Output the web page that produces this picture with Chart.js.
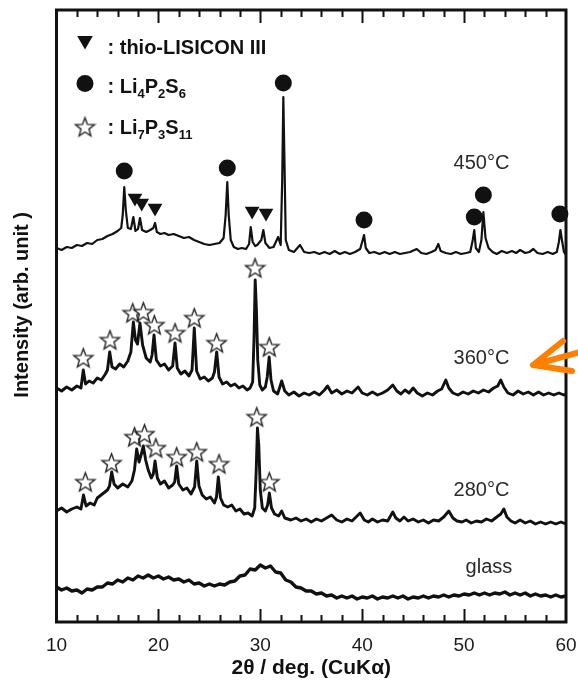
<!DOCTYPE html>
<html>
<head>
<meta charset="utf-8">
<script src="https://cdn.jsdelivr.net/npm/chart.js@4.4.1/dist/chart.umd.min.js"></script>
<style>
  html, body { margin: 0; padding: 0; background: #fff; }
  #wrap { width: 578px; height: 683px; }
</style>
</head>
<body>
<div id="wrap"><canvas id="xrd" width="578" height="683"></canvas></div>
<script>
// XRD patterns of 75Li2S-25P2S5 material: glass and after heat treatment.
// Intensities are in arbitrary units; each pattern already carries its vertical offset.

const glassTheta = [
  10.0, 10.5, 11.0, 11.5, 12.0, 12.5, 13.0, 13.5, 14.0, 14.5,
  15.0, 15.5, 16.0, 16.5, 17.0, 17.5, 18.0, 18.5, 19.0, 19.5,
  20.0, 20.5, 21.0, 21.5, 22.0, 22.5, 23.0, 23.5, 24.0, 24.5,
  25.0, 25.5, 26.0, 26.5, 27.0, 27.5, 28.0, 28.5, 29.0, 29.5,
  30.0, 30.5, 31.0, 31.5, 32.0, 32.5, 33.0, 33.5, 34.0, 34.5,
  35.0, 35.5, 36.0, 36.5, 37.0, 37.5, 38.0, 38.5, 39.0, 39.5,
  40.0, 40.5, 41.0, 41.5, 42.0, 42.5, 43.0, 43.5, 44.0, 44.5,
  45.0, 45.5, 46.0, 46.5, 47.0, 47.5, 48.0, 48.5, 49.0, 49.5,
  50.0, 50.5, 51.0, 51.5, 52.0, 52.5, 53.0, 53.5, 54.0, 54.5,
  55.0, 55.5, 56.0, 56.5, 57.0, 57.5, 58.0, 58.5, 59.0, 59.5,
  60.0
];
const glassIntensity = [
  35, 32, 34, 31, 32, 29, 33, 32, 35, 35,
  39, 38, 42, 40, 44, 42, 46, 44, 47, 44,
  46, 43, 45, 42, 43, 40, 42, 38, 39, 36,
  38, 36, 38, 37, 40, 41, 46, 47, 53, 52,
  57, 54, 56, 50, 49, 42, 40, 35, 34, 31,
  31, 28, 29, 26, 27, 24, 26, 24, 26, 23,
  25, 24, 26, 23, 25, 24, 26, 24, 26, 23,
  25, 24, 26, 24, 26, 25, 27, 25, 27, 26,
  28, 27, 29, 27, 29, 27, 29, 28, 30, 27,
  29, 27, 29, 26, 28, 26, 27, 25, 27, 25,
  26
];

const theta280 = [
  10.0, 10.5, 11.0, 11.5, 12.0, 12.4, 12.65, 12.9, 13.3, 13.7,
  14.0, 14.5, 15.0, 15.2, 15.42, 15.65, 16.0, 16.5, 17.0, 17.4,
  17.65, 17.87, 18.1, 18.3, 18.52, 18.75, 19.0, 19.3, 19.5, 19.67,
  19.9, 20.2, 20.6, 21.0, 21.4, 21.6, 21.79, 22.0, 22.4, 22.8,
  23.2, 23.55, 23.76, 23.98, 24.3, 24.7, 25.1, 25.5, 25.7, 25.88,
  26.1, 26.4, 26.8, 27.2, 27.6, 28.0, 28.4, 28.8, 29.2, 29.45,
  29.6, 29.72, 29.85, 30.0, 30.2, 30.5, 30.72, 30.89, 31.1, 31.4,
  31.8, 32.1, 32.4, 33.0, 33.5, 34.0, 34.5, 35.0, 35.5, 36.0,
  36.5, 37.0, 37.5, 38.0, 38.5, 39.0, 39.5, 39.8, 40.2, 40.6,
  41.0, 41.5, 42.0, 42.5, 43.0, 43.3, 43.7, 44.1, 44.5, 45.0,
  45.5, 46.0, 46.5, 47.0, 47.5, 48.0, 48.5, 48.9, 49.3, 49.8,
  50.2, 50.7, 51.2, 51.7, 52.2, 52.7, 53.2, 53.6, 53.9, 54.2,
  54.6, 55.0, 55.5, 56.0, 56.5, 57.0, 57.5, 58.0, 58.5, 59.0,
  59.5, 60.0
];
const intensity280 = [
  111, 114, 110, 113, 115, 113, 127, 116, 119, 117,
  124, 128, 132, 136, 150, 138, 134, 138, 135, 141,
  152, 173, 160, 167, 176, 162, 152, 144, 148, 161,
  144, 138, 141, 134, 137, 140, 156, 138, 132, 134,
  128, 135, 161, 136, 127, 123, 125, 119, 125, 145,
  124, 117, 115, 117, 111, 113, 108, 109, 106, 114,
  152, 194, 177, 132, 114, 111, 117, 129, 114, 108,
  106, 111, 104, 102, 104, 101, 103, 100, 103, 101,
  104, 107, 102, 100, 103, 101, 106, 109, 102, 100,
  103, 100, 102, 101, 110, 104, 101, 105, 101, 103,
  100, 102, 99, 102, 101, 105, 111, 104, 101, 100,
  102, 99, 101, 100, 103, 101, 105, 108, 113, 105,
  101, 99, 102, 99, 101, 98, 100, 98, 100, 98,
  100, 98
];

const theta360 = [
  10.0, 10.5, 11.0, 11.5, 12.0, 12.4, 12.63, 12.85, 13.2, 13.6,
  14.0, 14.4, 14.8, 15.0, 15.22, 15.45, 15.8, 16.2, 16.6, 17.0,
  17.3, 17.54, 17.75, 17.95, 18.19, 18.45, 18.8, 19.2, 19.38, 19.57,
  19.8, 20.2, 20.6, 21.0, 21.4, 21.63, 21.85, 22.2, 22.6, 23.0,
  23.3, 23.52, 23.75, 24.1, 24.5, 24.9, 25.3, 25.5, 25.72, 25.95,
  26.3, 26.7, 27.1, 27.5, 27.9, 28.3, 28.7, 29.0, 29.25, 29.38,
  29.5, 29.62, 29.75, 29.95, 30.2, 30.5, 30.68, 30.87, 31.05, 31.3,
  31.7, 32.1, 32.4, 32.8, 33.3, 33.8, 34.3, 34.8, 35.3, 35.8,
  36.3, 36.6, 37.0, 37.5, 38.0, 38.5, 39.0, 39.6, 40.0, 40.5,
  41.0, 41.5, 42.0, 42.5, 43.0, 43.4, 43.8, 44.2, 44.6, 45.0,
  45.4, 45.9, 46.4, 46.9, 47.4, 47.8, 48.2, 48.5, 48.9, 49.4,
  49.9, 50.4, 50.9, 51.4, 51.9, 52.4, 52.9, 53.3, 53.6, 53.9,
  54.3, 54.8, 55.3, 55.8, 56.3, 56.8, 57.3, 57.8, 58.3, 58.8,
  59.3, 59.8, 60.0
];
const intensity360 = [
  234, 231, 235, 232, 236, 234, 252, 238, 241, 239,
  244, 242, 248, 252, 270, 255, 253, 258, 255, 261,
  270, 300, 282, 278, 299, 277, 264, 260, 267, 287,
  262, 256, 258, 252, 256, 279, 254, 248, 251, 246,
  252, 294, 251, 243, 245, 241, 244, 250, 270, 245,
  238, 240, 236, 238, 234, 236, 232, 234, 240, 282,
  342, 312, 262, 237, 232, 235, 245, 265, 242, 231,
  228, 241, 231, 227, 230, 226, 229, 227, 230, 227,
  232, 236, 229, 232, 228, 231, 229, 235, 229, 227,
  230, 227, 229, 232, 237, 231, 228, 232, 229, 234,
  229, 226, 229, 227, 231, 233, 242, 234, 229, 227,
  230, 228, 231, 229, 232, 230, 234, 236, 242, 235,
  229, 227, 231, 228, 230, 227, 230, 227, 229, 227,
  229, 227, 228
];

const theta450 = [
  10.0, 10.5, 11.0, 11.5, 12.0, 12.5, 13.0, 13.5, 14.0, 14.5,
  15.0, 15.5, 16.0, 16.35, 16.5, 16.65, 16.8, 17.0, 17.3, 17.54,
  17.75, 18.0, 18.19, 18.4, 18.8, 19.2, 19.5, 19.67, 19.85, 20.2,
  20.6, 21.0, 21.5, 22.0, 22.5, 23.0, 23.5, 24.0, 24.5, 25.0,
  25.5, 26.0, 26.4, 26.6, 26.76, 26.9, 27.1, 27.4, 27.8, 28.2,
  28.6, 28.9, 29.06, 29.25, 29.5, 29.7, 30.1, 30.3, 30.5, 30.9,
  31.3, 31.75, 32.0, 32.15, 32.26, 32.37, 32.5, 32.8, 33.3, 33.9,
  34.3, 34.8, 35.3, 35.8, 36.3, 36.8, 37.3, 37.8, 38.3, 38.8,
  39.3, 39.8, 40.05, 40.18, 40.35, 40.7, 41.2, 41.7, 42.2, 42.7,
  43.2, 43.7, 44.2, 44.7, 45.35, 45.8, 46.3, 46.8, 47.2, 47.47,
  47.7, 48.2, 48.7, 49.2, 49.7, 50.2, 50.6, 50.85, 51.0, 51.15,
  51.45, 51.7, 51.89, 52.1, 52.4, 52.8, 53.2, 53.7, 54.2, 54.7,
  55.1, 55.5, 56.0, 56.4, 56.8, 57.2, 57.7, 58.2, 58.7, 59.1,
  59.3, 59.45, 59.6, 59.8, 60.0
];
const intensity450 = [
  374, 372, 375, 374, 377, 376, 379, 378, 382, 383,
  386, 388, 391, 394, 407, 435, 412, 394, 393, 405,
  391, 393, 404, 392, 390, 392, 394, 399, 390, 388,
  389, 387, 388, 386, 384, 385, 382, 380, 378, 377,
  378, 379, 384, 407, 440, 407, 382, 375, 373, 374,
  373, 378, 395, 380, 376, 377, 382, 392, 379, 374,
  375, 385, 377, 442, 525, 462, 382, 372, 370, 377,
  370, 369, 370, 368, 370, 368, 371, 368, 370, 368,
  370, 373, 382, 387, 374, 369, 370, 368, 370, 368,
  370, 368, 369, 370, 373, 369, 368, 370, 372, 378,
  371, 369, 368, 370, 368, 369, 370, 382, 392, 374,
  370, 382, 410, 384, 374, 370, 368, 371, 369, 371,
  369, 372, 369, 370, 373, 369, 368, 370, 368, 370,
  380, 392, 382, 370, 367
];

// Phase assignments placed above the reflections
const li4p2s6Theta = [16.65, 26.76, 32.26, 40.18, 51.0, 51.89, 59.4];
const li4p2s6Level = [451, 454, 539, 402, 405, 427, 408];
const thioTheta = [17.7, 18.36, 19.67, 29.2, 30.56];
const thioLevel = [424, 419, 414, 411, 409];
const li7p3s11Theta = [12.63, 15.25, 17.48, 18.52, 19.6, 21.63, 23.52, 25.72, 29.48, 30.88,
                       12.83, 15.4, 17.66, 18.64, 19.75, 21.79, 23.76, 25.95, 29.65, 30.89];
const li7p3s11Level = [264, 282, 309, 310, 297, 289, 304, 279, 354, 275,
                       140, 159, 185, 188, 174, 165, 170, 158, 205, 140];

const sampleNames = ['450°C', '360°C', '280°C', 'glass'];
const xTickValues = [10, 20, 30, 40, 50, 60];

const FONT = "'Liberation Sans', Arial, Helvetica, sans-serif";
const INK = '#111';

function pairs(xs, ys) {
  const n = Math.min(xs.length, ys.length);
  const out = [];
  for (let i = 0; i < n; i++) out.push({ x: xs[i], y: ys[i] });
  return out;
}

// open five-pointed star used for Li7P3S11
function makeStar(size) {
  const c = document.createElement('canvas');
  c.width = size; c.height = size;
  const g = c.getContext('2d');
  const cx = size / 2, cy = size / 2 + 0.8, R = size / 2 - 1.5, r = R * 0.42;
  g.beginPath();
  for (let i = 0; i < 10; i++) {
    const a = -Math.PI / 2 + i * Math.PI / 5;
    const rr = i % 2 === 0 ? R : r;
    const px = cx + rr * Math.cos(a), py = cy + rr * Math.sin(a);
    if (i === 0) g.moveTo(px, py); else g.lineTo(px, py);
  }
  g.closePath();
  g.fillStyle = '#fff';
  g.fill();
  g.lineWidth = 1.4;
  g.strokeStyle = '#222';
  g.lineJoin = 'miter';
  g.stroke();
  return c;
}
const starImg = makeStar(23);

function trace(data, width) {
  return {
    type: 'line', data, borderColor: INK, borderWidth: width,
    pointRadius: 0, tension: 0, fill: false, borderJoinStyle: 'round', order: 2
  };
}

const datasets = [
  Object.assign(trace(pairs(theta450, intensity450), 2.2), { label: sampleNames[0] }),
  Object.assign(trace(pairs(theta360, intensity360), 2.9), { label: sampleNames[1] }),
  Object.assign(trace(pairs(theta280, intensity280), 2.9), { label: sampleNames[2] }),
  Object.assign(trace(pairs(glassTheta, glassIntensity), 3.4), { label: sampleNames[3] }),
  {
    type: 'scatter', label: 'Li4P2S6', data: pairs(li4p2s6Theta, li4p2s6Level),
    pointStyle: 'circle', pointRadius: 8.5, pointBackgroundColor: INK, pointBorderWidth: 0,
    showLine: false, clip: false, order: 1
  },
  {
    type: 'scatter', label: 'thio-LISICON III', data: pairs(thioTheta, thioLevel),
    pointStyle: 'triangle', pointRotation: 180, pointRadius: 8.5, pointBackgroundColor: INK,
    pointBorderWidth: 0, showLine: false, clip: false, order: 1
  },
  {
    type: 'scatter', label: 'Li7P3S11', data: pairs(li7p3s11Theta, li7p3s11Level),
    pointStyle: starImg, showLine: false, clip: false, order: 1
  }
];

// sample labels, anchored in data coordinates
const sampleLabelPos = [
  { x: 51.7, y: 459 }, { x: 51.7, y: 264 }, { x: 51.7, y: 132 }, { x: 52.44, y: 55 }
];

const sampleLabels = {
  id: 'sampleLabels',
  afterDatasetsDraw(chart) {
    const { ctx, scales: { x, y } } = chart;
    ctx.save();
    ctx.font = '20px ' + FONT;
    ctx.fillStyle = '#2a2a2a';
    ctx.textAlign = 'center';
    ctx.textBaseline = 'middle';
    sampleNames.forEach((name, i) => {
      const p = sampleLabelPos[i];
      ctx.fillText(name, x.getPixelForValue(p.x), y.getPixelForValue(p.y));
    });
    ctx.restore();
  }
};

// plot frame with inward tick marks on top and bottom edges
const frame = {
  id: 'frame',
  afterDatasetsDraw(chart) {
    const { ctx, chartArea: a, scales: { x } } = chart;
    ctx.save();
    ctx.strokeStyle = INK;
    ctx.lineWidth = 2;
    for (let v = 12; v < 60; v += 2) {
      const px = Math.round(x.getPixelForValue(v)) + 0.5;
      const len = v % 10 === 0 ? 13 : 7;
      ctx.beginPath();
      ctx.moveTo(px, a.bottom); ctx.lineTo(px, a.bottom - len);
      ctx.moveTo(px, a.top); ctx.lineTo(px, a.top + len);
      ctx.stroke();
    }
    ctx.lineWidth = 3;
    ctx.strokeRect(a.left, a.top, a.right - a.left, a.bottom - a.top);
    ctx.restore();
  }
};

// legend block in the upper-left corner of the plot
const legendBlock = {
  id: 'legendBlock',
  afterDatasetsDraw(chart) {
    const { ctx, chartArea: a } = chart;
    const mx = a.left + 28.5, tx = a.left + 51;
    const bold = (s) => 'bold ' + s + 'px ' + FONT;
    ctx.save();
    ctx.fillStyle = INK;
    Chart.helpers.drawPoint(ctx, { pointStyle: 'triangle', rotation: 180, radius: 9, borderWidth: 0 }, mx, a.top + 30.5);
    Chart.helpers.drawPoint(ctx, { pointStyle: 'circle', radius: 8.5, borderWidth: 0 }, mx, a.top + 73.5);
    ctx.drawImage(starImg, mx - starImg.width / 2, a.top + 117 - starImg.height / 2);

    ctx.textBaseline = 'middle';
    ctx.textAlign = 'left';
    function formula(parts, x0, y0) {
      let cx = x0;
      parts.forEach(([t, sub]) => {
        ctx.font = sub ? bold(13) : bold(20);
        ctx.fillText(t, cx, sub ? y0 + 7 : y0);
        cx += ctx.measureText(t).width;
      });
    }
    formula([[': thio-LISICON III', false]], tx, a.top + 38);
    formula([[': Li', false], ['4', true], ['P', false], ['2', true], ['S', false], ['6', true]], tx, a.top + 77);
    formula([[': Li', false], ['7', true], ['P', false], ['3', true], ['S', false], ['11', true]], tx, a.top + 118);
    ctx.restore();
  }
};

// orange pointer toward the 360 °C pattern
const pointer = {
  id: 'pointer',
  afterDraw(chart) {
    const { ctx, scales: { x, y } } = chart;
    const P = (t, v) => [x.getPixelForValue(t), y.getPixelForValue(v)];
    const tip = P(56.76, 257), up = P(59.71, 281), low = P(60.59, 251), tail = P(61.4, 270);
    ctx.save();
    ctx.strokeStyle = '#ff7f00';
    ctx.lineWidth = 6;
    ctx.lineCap = 'round';
    ctx.lineJoin = 'round';
    ctx.beginPath();
    ctx.moveTo(up[0], up[1]); ctx.lineTo(tip[0], tip[1]); ctx.lineTo(low[0], low[1]);
    ctx.moveTo(tip[0], tip[1]); ctx.lineTo(tail[0], tail[1]);
    ctx.stroke();
    ctx.restore();
  }
};

new Chart(document.getElementById('xrd'), {
  type: 'line',
  data: { datasets },
  options: {
    responsive: false,
    animation: false,
    events: [],
    layout: { padding: { top: 10, right: 12, left: 0, bottom: 0 } },
    plugins: { legend: { display: false }, tooltip: { enabled: false } },
    scales: {
      x: {
        type: 'linear', position: 'bottom', min: 10, max: 60,
        grid: { display: false }, border: { display: false },
        afterBuildTicks(s) { s.ticks = xTickValues.map(v => ({ value: v })); },
        ticks: { color: '#1a1a1a', font: { family: FONT, size: 19 }, padding: 4, maxRotation: 0, autoSkip: false },
        title: {
          display: true, text: '2θ / deg. (CuKα)', color: INK,
          font: { family: FONT, size: 21, weight: 'bold' }, padding: { top: 0, bottom: 2 }
        },
        afterFit(s) { s.height = 61; s.paddingLeft = 0; s.paddingRight = 0; }
      },
      y: {
        type: 'linear', min: 0, max: 612,
        grid: { display: false }, border: { display: false },
        ticks: { display: false },
        title: {
          display: true, text: '    Intensity (arb. unit )', color: INK,
          font: { family: FONT, size: 20, weight: 'bold' }, padding: { top: 10, bottom: 0 }
        },
        afterFit(s) { s.width = 56.5; s.paddingTop = 0; s.paddingBottom = 0; }
      }
    }
  },
  plugins: [frame, sampleLabels, legendBlock, pointer]
});
</script>
</body>
</html>
